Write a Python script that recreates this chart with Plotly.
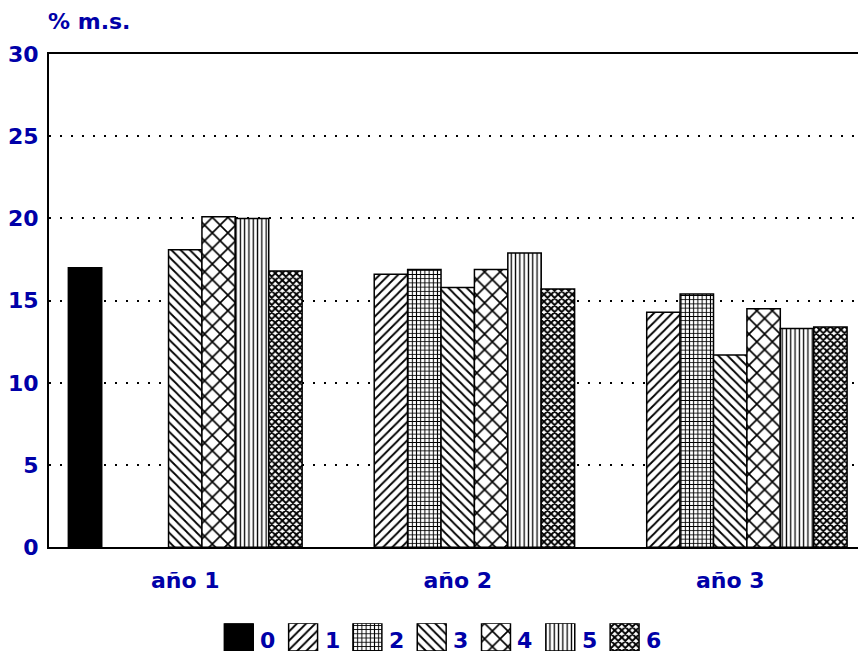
import plotly.graph_objects as go

# categories and series
years = ["año 1", "año 2", "año 3"]
series_names = ["0", "1", "2", "3", "4", "5", "6"]
s0 = [17.0, None, None]
s1 = [None, 16.6, 14.3]
s2 = [None, 16.9, 15.4]
s3 = [18.1, 15.8, 11.7]
s4 = [20.1, 16.9, 14.5]
s5 = [20.0, 17.9, 13.3]
s6 = [16.8, 15.7, 13.4]
series_values = [s0, s1, s2, s3, s4, s5, s6]
y_ticks = [0, 5, 10, 15, 20, 25, 30]
y_title = "% m.s."

BLUE = "#0000A8"
FONT = "DejaVu Sans"

# fill pattern of each series: (shape, size, solidity); "" means solid black
patterns = [
    ("", 8, 0.3),
    ("/", 6.5, 0.28),
    ("+", 4.2, 0.42),
    ("\\", 6.5, 0.28),
    ("x", 11, 0.28),
    ("|", 4.3, 0.3),
    ("x", 5, 0.62),
]


def marker_for(i):
    shape, size, solidity = patterns[i]
    if shape == "":
        return dict(color="black", line=dict(color="black", width=1.5))
    return dict(
        color="white",
        line=dict(color="black", width=1.5),
        pattern=dict(shape=shape, size=size, solidity=solidity,
                     fgcolor="black", bgcolor="white", fillmode="replace"),
    )


fig = go.Figure()

for i, (name, vals) in enumerate(zip(series_names, series_values)):
    fig.add_trace(go.Bar(
        x=years, y=vals, name=name, marker=marker_for(i),
        showlegend=False, xaxis="x", yaxis="y",
    ))

# legend row drawn as swatches on an auxiliary axis
for i, name in enumerate(series_names):
    fig.add_trace(go.Bar(
        x=[i], y=[1], base=0, width=0.45, offset=-0.225,
        marker=marker_for(i), showlegend=False, hoverinfo="skip",
        xaxis="x2", yaxis="y2",
    ))
    fig.add_annotation(
        x=i + 0.225, y=0, xref="x2", yref="y2", text=name,
        showarrow=False, xanchor="left", yanchor="bottom",
        xshift=5, yshift=-4,
        font=dict(family=FONT, size=22, color=BLUE, weight="bold"),
    )

fig.add_annotation(
    x=0, y=1, xref="paper", yref="paper", text=y_title, showarrow=False,
    xanchor="left", yanchor="middle", xshift=-3, yshift=33,
    font=dict(family=FONT, size=22, color=BLUE, weight="bold"),
)

tick_font = dict(family=FONT, size=22, color=BLUE, weight="bold")

fig.update_layout(
    width=858, height=664,
    margin=dict(l=49, r=0, t=54, b=6),
    paper_bgcolor="white", plot_bgcolor="white",
    barmode="group", bargap=0.142, bargroupgap=0,
    xaxis=dict(
        domain=[0, 1], range=[-0.5, 2.469], type="category",
        showline=True, linecolor="black", linewidth=2, mirror=True,
        showgrid=False, ticks="", tickfont=tick_font,
        ticklabelstandoff=12, anchor="y",
    ),
    yaxis=dict(
        domain=[0.1738, 1], range=[0, 30], tickvals=y_ticks,
        showline=True, linecolor="black", linewidth=2, mirror=False,
        showgrid=True, gridcolor="black", gridwidth=2, griddash="2px,9px",
        zeroline=False, ticks="", tickfont=tick_font,
        ticklabelstandoff=4, anchor="x",
    ),
    xaxis2=dict(
        domain=[0, 1], range=[-2.952, 9.63], visible=False,
        anchor="y2", fixedrange=True,
    ),
    yaxis2=dict(
        domain=[0, 0.0464], range=[0, 1], visible=False,
        anchor="x2", fixedrange=True,
    ),
)

fig.write_html("out.html")
